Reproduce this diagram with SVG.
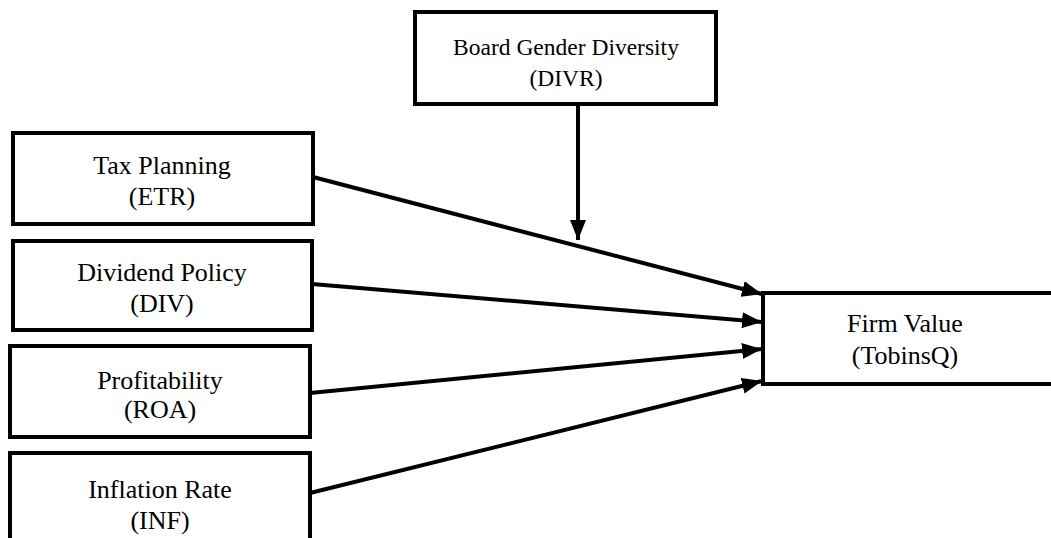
<svg xmlns="http://www.w3.org/2000/svg" width="1051" height="538" viewBox="0 0 1051 538">
<style>
.box{fill:#fff;stroke:#000;stroke-width:4;}
.t{font-family:"Liberation Serif","Times New Roman",serif;font-size:26px;fill:#000;text-anchor:middle;}
.s{font-size:23.5px;}
.c{stroke:#000;stroke-width:4;fill:none;marker-end:url(#ah);}
</style>
<defs>
<marker id="ah" viewBox="0 0 20 16" refX="20" refY="8" markerWidth="20" markerHeight="16" markerUnits="userSpaceOnUse" orient="auto">
<path d="M0,0 L20,8 L0,16 z" fill="#000"/>
</marker>
</defs>
<rect width="1051" height="538" fill="#fff"/>
<g id="divr">
<rect class="box" x="415" y="12" width="301" height="92"/>
<text class="t s" x="566" y="55">Board Gender Diversity</text>
<text class="t s" x="566" y="86">(DIVR)</text>
</g>
<g id="etr">
<rect class="box" x="13" y="133" width="300" height="91"/>
<text class="t" x="162" y="174">Tax Planning</text>
<text class="t" x="162" y="205">(ETR)</text>
</g>
<g id="div">
<rect class="box" x="13" y="241" width="299" height="89"/>
<text class="t" x="162" y="281">Dividend Policy</text>
<text class="t" x="162" y="312">(DIV)</text>
</g>
<g id="roa">
<rect class="box" x="10" y="346" width="300" height="91"/>
<text class="t" x="160" y="389">Profitability</text>
<text class="t" x="160" y="418">(ROA)</text>
</g>
<g id="inf">
<rect class="box" x="10" y="453" width="300" height="100"/>
<text class="t" x="160" y="498">Inflation Rate</text>
<text class="t" x="160" y="529">(INF)</text>
</g>
<g id="tobinsq">
<rect class="box" x="763" y="293" width="300" height="91"/>
<text class="t" x="905" y="332">Firm Value</text>
<text class="t" x="905" y="364">(TobinsQ)</text>
</g>
<g id="connectors">
<line class="c" x1="313" y1="177" x2="762" y2="294"/>
<line class="c" x1="312" y1="284" x2="762" y2="322"/>
<line class="c" x1="310" y1="393" x2="762" y2="349"/>
<line class="c" x1="310" y1="493" x2="762" y2="381"/>
<line class="c" x1="578" y1="104" x2="578" y2="240"/>
</g>
</svg>
